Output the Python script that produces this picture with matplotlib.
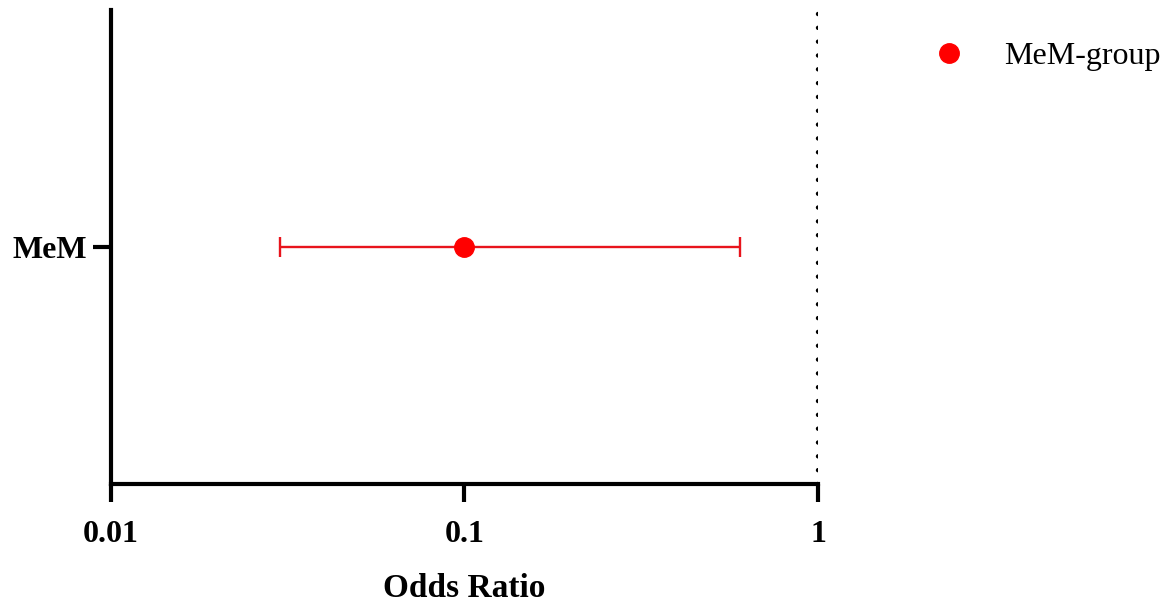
import numpy as np
import matplotlib.pyplot as plt

plt.rcParams['font.family'] = ['Liberation Serif', 'DejaVu Serif']

# data
groups = ['MeM']
odds_ratio = [0.1]
ci_low = [0.03]
ci_high = [0.6]
x_ticks = [0.01, 0.1, 1]
x_ticklabels = ['0.01', '0.1', '1']

fig = plt.figure(figsize=(11.74, 6.05), dpi=100)
ax = fig.add_axes([0.0945, 0.2, 0.6023, 0.7835])

y = np.arange(len(groups))
err = [np.array(odds_ratio) - np.array(ci_low), np.array(ci_high) - np.array(odds_ratio)]
ax.errorbar(odds_ratio, y, xerr=err, fmt='none', ecolor='#e8141c', elinewidth=1.7,
            capsize=7, capthick=1.7)
ax.plot(odds_ratio, y, 'o', color='#ff0000', markersize=14, label='MeM-group', linestyle='none')

# reference line at OR = 1
ax.axvline(1, color='black', linewidth=3.2, linestyle=(0, (0.01, 3.1)),
           dash_capstyle='round')

ax.set_xscale('log')
ax.set_xlim(0.01, 1)
ax.set_ylim(-1, 1)
ax.set_xticks(x_ticks)
ax.set_xticklabels(x_ticklabels)
ax.minorticks_off()
ax.set_yticks(y)
ax.set_yticklabels(groups)

for s in ['top', 'right']:
    ax.spines[s].set_visible(False)
for s in ['left', 'bottom']:
    ax.spines[s].set_linewidth(3)
ax.tick_params(axis='both', which='major', length=13, width=3, labelsize=23)
ax.tick_params(axis='x', pad=13)
ax.tick_params(axis='y', pad=4)
for lab in ax.get_xticklabels() + ax.get_yticklabels():
    lab.set_fontweight('bold')

ax.set_xlabel('Odds Ratio', fontsize=24, fontweight='bold', labelpad=17)

fig.legend(loc='upper left', bbox_to_anchor=(0.757, 0.978), frameon=False,
           fontsize=23, handletextpad=0.7, markerscale=1.0)

fig.savefig('out.png', dpi=100)
